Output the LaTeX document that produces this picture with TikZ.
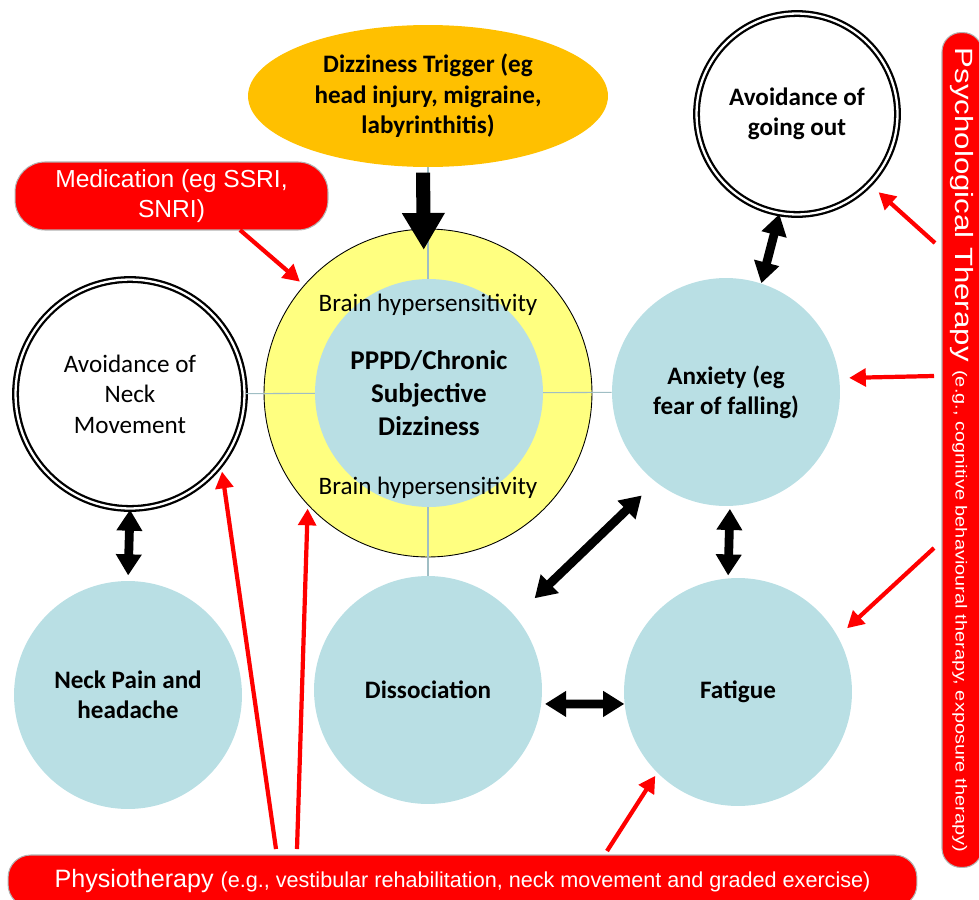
\documentclass[tikz,border=0pt]{standalone}
\usepackage{fontspec}
\usepackage{graphicx}
\setmainfont{Carlito}
\newfontfamily\arialfont{Liberation Sans}
\definecolor{ppblue}{RGB}{185,223,228}
\definecolor{ppyellow}{RGB}{255,255,128}
\definecolor{pporange}{RGB}{255,192,0}
\definecolor{ppred}{RGB}{255,0,0}
\definecolor{pphub}{RGB}{160,190,196}
\usetikzlibrary{shapes,arrows.meta,positioning,calc}

\begin{document}
\begin{tikzpicture}[x=0.02cm, y=-0.02cm,
    every node/.style={font=\fontsize{14.3}{17.3}\selectfont},
    state/.style={circle, fill=ppblue, minimum size=4.56cm, inner sep=0pt, align=center, font=\fontsize{14.3}{17.3}\selectfont\bfseries},
    avoid/.style={circle, draw, fill=white, line width=1.3pt, double=white, double distance=1.3pt, inner sep=0pt, align=center},
    therapy/.style={rectangle, fill=ppred, draw=gray!60, line width=0.6pt, text=white, inner sep=0pt, align=center, font=\arialfont\fontsize{14}{17}\selectfont},
    redarr/.style={draw=ppred, line width=2.4pt, -{Triangle[length=9.5pt,width=10pt]}},
    dblarr/.style={draw=black, line width=5pt, {Triangle[length=12pt,width=14pt]}-{Triangle[length=12pt,width=14pt]}},
    hub/.style={draw=pphub, line width=0.6pt}]
    \useasboundingbox (0,0) rectangle (979,899);
    \clip (0,0) rectangle (979,899);

    % Trigger and therapies
    \node[ellipse, fill=pporange, minimum width=7.2cm, minimum height=2.84cm, inner sep=0pt, align=center, font=\fontsize{14.3}{17.3}\selectfont\bfseries] (trigger) at (428,96) {Dizziness Trigger (eg\\head injury, migraine,\\labyrinthitis)};
    \node[therapy, rounded corners=0.6cm, minimum width=6.26cm, minimum height=1.36cm] (med) at (171.5,196) {Medication (eg SSRI,\\SNRI)};
    \node[therapy, rounded corners=0.38cm, rotate=-90, minimum width=16.7cm, minimum height=0.8cm] (psych) at (962,450) {\scalebox{1.25}[1]{{\fontsize{14.2}{17}\selectfont Psychological Therapy} {\fontsize{9.1}{11}\selectfont (e.g., cognitive behavioural therapy, exposure therapy)}}};
    \node[therapy, rounded corners=0.45cm, minimum width=18.18cm, minimum height=1.04cm] (physio) at (462.5,881) {{\fontsize{14.3}{17}\selectfont Physiotherapy} {\fontsize{12.3}{14}\selectfont (e.g., vestibular rehabilitation, neck movement and graded exercise)}};

    % Surrounding circles
    \node[avoid, minimum size=4.58cm] (neckav) at (130,394) {Avoidance of\\Neck\\Movement};
    \node[avoid, minimum size=4.02cm, font=\fontsize{14.3}{17.3}\selectfont\bfseries] (outgo) at (797,114) {Avoidance of\\going out};
    \node[state] (neckpain) at (128,695) {Neck Pain and\\headache};
    \node[state] (dis) at (428,690) {Dissociation};
    \node[state] (anx) at (726,392) {Anxiety (eg\\fear of falling)};
    \node[state] (fat) at (738,692) {Fatigue};

    % Centre
    \node[circle, fill=ppyellow, draw=black, line width=0.5pt, minimum size=6.56cm] (ring) at (428,393) {};
    \draw[hub] (trigger) -- (dis);
    \draw[hub] (neckav) -- (anx);
    \node[circle, fill=ppblue, minimum size=4.56cm, inner sep=0pt, align=center, font=\fontsize{15.4}{19}\selectfont\bfseries] (core) at (429,393) {PPPD/Chronic\\Subjective\\Dizziness};
    \node (bhtop) at (428,305) {Brain hypersensitivity};
    \node (bhbot) at (428,488) {Brain hypersensitivity};

    % Free ends on the therapy bars
    \coordinate (md1) at (240,230);
    \coordinate (ps1) at (935,243);
    \coordinate (ps2) at (934,376);
    \coordinate (ps3) at (934,548);
    \coordinate (ph1) at (276,849);
    \coordinate (ph2) at (297,849);
    \coordinate (ph3) at (607,851);

    % Black arrows
    \draw[line width=8pt, -{Triangle[length=21pt,width=23pt]}, shorten <=3pt, shorten >=16.4pt] ([xshift=-0.1cm]trigger.south) -- ([xshift=-0.1cm]core.north);
    \draw[dblarr, shorten >=3pt] (neckav.south) -- (neckpain.north);
    \draw[dblarr] (outgo.-100) -- (anx.72);
    \draw[dblarr, shorten <=11pt, shorten >=15pt] (anx.-128) -- (dis.40);
    \draw[dblarr, shorten <=1.5pt, shorten >=1.5pt] (anx.-88) -- (fat.95);
    \draw[dblarr, shorten <=2pt] (dis.-7) -- (fat.186);

    % Red arrows
    \draw[redarr, shorten >=3pt] (md1) -- (ring.139);
    \draw[redarr, shorten >=6.5pt] (ps1) -- (outgo.-44);
    \draw[redarr, shorten >=5.5pt] (ps2) -- (anx.7.5);
    \draw[redarr, shorten >=7pt] (ps3) -- (fat.29);
    \draw[redarr, shorten >=3.7pt] (ph1) -- (neckav.-38);
    \draw[redarr, shorten >=2pt] (ph2) -- (ring.-137);
    \draw[redarr, shorten >=2pt] (ph3) -- (fat.-135);
\end{tikzpicture}
\end{document}
